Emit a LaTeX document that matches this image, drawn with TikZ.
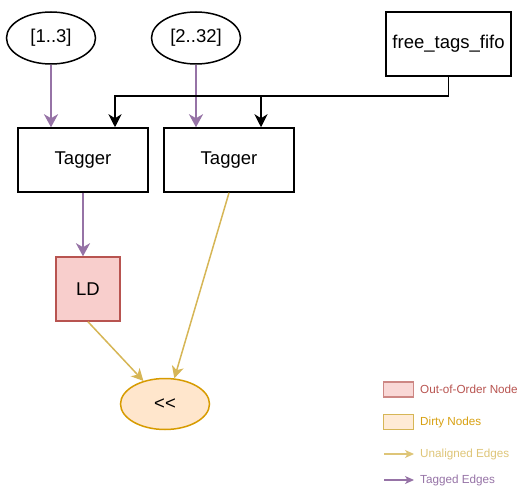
\documentclass[tikz,border=0pt]{standalone}
\usepackage{fontspec}
\setmainfont{Liberation Sans}
\usetikzlibrary{arrows.meta,shapes.geometric}
\definecolor{tagpurple}{HTML}{9673A6}
\definecolor{oooline}{HTML}{B85450}
\definecolor{ooofill}{HTML}{F8CECC}
\definecolor{dirtyline}{HTML}{D79B00}
\definecolor{dirtyfill}{HTML}{FFE6CC}
\definecolor{unaligned}{HTML}{D6B656}
\tikzset{
  bigtext/.style={font=\fontsize{18.5}{22}\selectfont},
  legtext/.style={anchor=west, inner sep=0pt, font=\fontsize{11.7}{14}\selectfont},
  block/.style={draw, line width=1.5pt, minimum width=130pt, minimum height=64pt, bigtext},
  rangebox/.style={draw, ellipse, line width=1.5pt, minimum width=89pt, minimum height=52pt, inner sep=0pt, bigtext},
  ooo/.style={draw=oooline, fill=ooofill, line width=1.5pt, minimum width=64pt, minimum height=64pt, bigtext},
  dirty/.style={draw=dirtyline, fill=dirtyfill, ellipse, line width=1.5pt, minimum width=89pt, minimum height=51pt, inner sep=0pt, bigtext},
  tagged/.style={tagpurple, line width=2.5pt, -{Stealth[length=13pt,width=14pt,inset=4pt]}},
  tagflow/.style={black, line width=1.8pt, -{Stealth[length=13pt,width=13pt,inset=4pt]}},
  untagged/.style={unaligned, line width=1.5pt, -{Stealth[length=12pt,width=12pt,inset=3.5pt]}}
}
\begin{document}
\begin{tikzpicture}[x=1pt,y=-1pt]
    \useasboundingbox (0,0) rectangle (524,494);
    \node[rangebox] (r1) at (51,38) {[1..3]};
    \node[rangebox] (r2) at (196,38) {[2..32]};
    \node[block, minimum width=125pt] (fifo) at (448.5,44) {free\_tags\_fifo};
    \node[block] (tag1) at (83,160) {Tagger};
    \node[block] (tag2) at (229,160) {Tagger};
    \node[ooo] (ld) at (88,289) {LD};
    \node[dirty] (shl) at (165,404) {<\kern0pt<};
    \coordinate (j1) at (115,96);
    \coordinate (j2) at (261,96);
    \draw[tagged] (r1.south) -- (r1.south |- tag1.north);
    \draw[tagged] (r2.south) -- (r2.south |- tag2.north);
    \draw[tagflow] (fifo.south) |- (j1) -- (j1 |- tag1.north);
    \draw[tagflow] (j2) -- (j2 |- tag2.north);
    \draw[tagged] (tag1.south) -- (tag1.south |- ld.north);
    \draw[untagged] (ld.south) -- (shl);
    \draw[untagged] (tag2.south) -- (shl.70);
    \node[draw=oooline!70, fill=ooofill!80, line width=1.2pt, minimum width=30pt, minimum height=15pt] (lgooo) at (398.5,389.5) {};
    \node[legtext, text=oooline] (lgoootxt) at (420,389.5) {Out-of-Order Node};
    \node[draw=unaligned, fill=dirtyfill!80, line width=1.2pt, minimum width=30pt, minimum height=15pt] (lgdirty) at (398.5,422) {};
    \node[legtext, text=dirtyline!80!unaligned] (lgdirtytxt) at (420,422) {Dirty Nodes};
    \coordinate (lgua1) at (384,454);
    \coordinate (lgua2) at (414,454);
    \draw[unaligned!80, line width=1.2pt, -{Stealth[length=9pt,width=8pt,inset=2.5pt]}] (lgua1) -- (lgua2);
    \node[legtext, text=unaligned!80] (lguatxt) at (420,454) {Unaligned Edges};
    \coordinate (lgtg1) at (384,480);
    \coordinate (lgtg2) at (414,480);
    \draw[tagpurple, line width=1.2pt, -{Stealth[length=9pt,width=8pt,inset=2.5pt]}] (lgtg1) -- (lgtg2);
    \node[legtext, text=tagpurple] (lgtgtxt) at (420,480) {Tagged Edges};
\end{tikzpicture}
\end{document}
